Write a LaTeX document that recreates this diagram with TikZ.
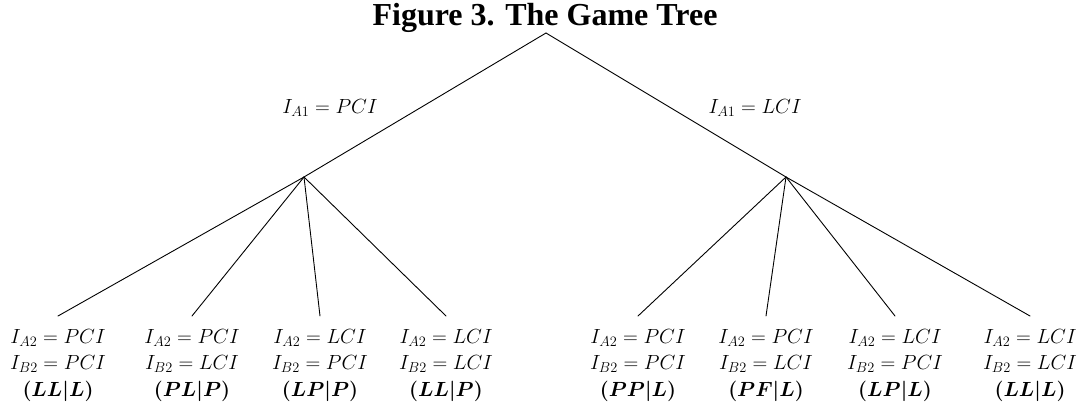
\RequirePackage{fix-cm}
\documentclass[tikz,border=0pt]{standalone}
\usepackage{fontspec}
\newfontfamily\titlefont{Liberation Serif}
\begin{document}
\begin{tikzpicture}[x=1pt, y=-1pt, line cap=round, line join=round, line width=0.9pt, font=\fontsize{20.5}{26.5}\selectfont]
	\tikzset{leaf/.style={anchor=north, align=center, inner sep=0pt, outer ysep=13pt}}
	\useasboundingbox (0,0) rectangle (1083,412);
	\node[anchor=base, font=\titlefont\fontsize{32}{38}\selectfont\bfseries] (title) at (545,26) {Figure 3. The Game Tree};
	\coordinate (root) at (546,33);
	\coordinate (pci) at (304,177);
	\coordinate (lci) at (786,177);
	\draw (root) -- (pci);
	\draw (root) -- (lci);
	\node[anchor=base] (labP) at (330,113) {$I_{A1}=PCI$};
	\node[anchor=base] (labL) at (755,113) {$I_{A1}=LCI$};
	\foreach \n/\p/\x/\a/\b/\c in {p1/pci/58/PCI/PCI/LL|L, p2/pci/192/PCI/LCI/PL|P, p3/pci/320/LCI/PCI/LP|P, p4/pci/446/LCI/LCI/LL|P,
		l1/lci/638/PCI/PCI/PP|L, l2/lci/766/PCI/LCI/PF|L, l3/lci/895/LCI/PCI/LP|L, l4/lci/1030/LCI/LCI/LL|L}{
		\node[leaf] (\n) at (\x,316) {$I_{A2}=\a$\\$I_{B2}=\b$\\{\boldmath$(\c)$}};
		\draw (\p) -- (\n.north);
	}
\end{tikzpicture}
\end{document}
